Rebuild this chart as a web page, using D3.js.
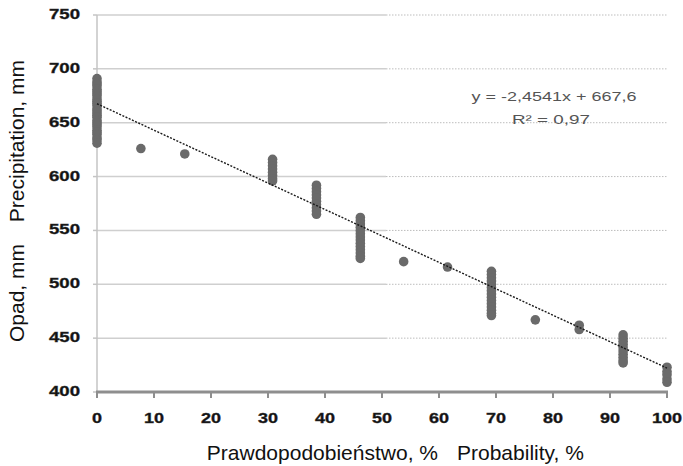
<!DOCTYPE html>
<html lang="pl">
<head>
    <meta charset="UTF-8">
    <title>Opad - prawdopodobieństwo</title>
    <script src="https://cdn.jsdelivr.net/npm/d3@7/dist/d3.min.js"></script>
    <style>
        body { margin: 0; background: #fff; }
        svg { display: block; font-family: "Liberation Sans", Arial, sans-serif; }
        .tick-label { font-weight: bold; font-size: 15px; fill: #111; stroke: #333; stroke-width: 0.4px; }
        .title { font-size: 21px; fill: #111; }
        .eq { font-size: 13px; fill: #555; }
    </style>
</head>
<body>
<div id="chart"></div>
<script>
    'use strict';

    // probability (%) of each group of points
    const probability = [0, 7.7, 15.4, 30.8, 38.5, 46.2, 53.8, 61.5, 69.2, 76.9, 84.6, 92.3, 100];

    // precipitation (mm), one list per probability
    const precipitation = [
        [691, 688, 686, 684, 681, 679, 677, 675, 672, 670, 668, 666, 663, 661, 659, 657, 655, 652, 650, 648, 646, 643, 641, 639, 636, 634, 631],
        [626],
        [621],
        [616, 613, 610, 607, 604, 601, 598, 596],
        [592, 589, 586, 583, 580, 577, 574, 571, 568, 565],
        [562, 559, 556, 553, 550, 547, 544, 541, 538, 535, 532, 529, 526, 524],
        [521],
        [516],
        [512, 509, 506, 503, 500, 497, 494, 491, 488, 485, 482, 479, 476, 473, 471],
        [467],
        [462, 458],
        [453, 450, 447, 444, 441, 438, 435, 432, 429, 427],
        [423, 419, 416, 412, 409]
    ];

    const xTicks = [0, 10, 20, 30, 40, 50, 60, 70, 80, 90, 100];
    const yTicks = [400, 450, 500, 550, 600, 650, 700, 750];

    // linear trend shown on the chart
    const trendSlope = -2.4541;
    const trendIntercept = 667.6;
    const equationText = 'y = -2,4541x + 667,6';
    const r2Text = 'R² = 0,97';

    const width = 683, height = 466;

    const svg = d3.select('#chart').append('svg')
        .attr('width', width)
        .attr('height', height);

    const x = d3.scaleLinear().domain([0, 100]).range([97, 667]);
    const y = d3.scaleLinear().domain([400, 750]).range([392, 15]);

    // gridlines: solid on the left part, dotted on the right part (as in the scan)
    const gridSplit = 50.7;
    const grid = svg.append('g');
    yTicks.filter(function (v) { return v > 400; }).forEach(function (v) {
        grid.append('line')
            .attr('x1', x(0)).attr('x2', x(gridSplit))
            .attr('y1', y(v)).attr('y2', y(v))
            .attr('stroke', '#cfcfcf').attr('stroke-width', 1.5);
        grid.append('line')
            .attr('x1', x(gridSplit)).attr('x2', x(100))
            .attr('y1', y(v)).attr('y2', y(v))
            .attr('stroke', '#bdbdbd').attr('stroke-width', 1)
            .attr('stroke-dasharray', '1.5,1.5');
    });

    // left axis
    svg.append('line')
        .attr('x1', x(0)).attr('x2', x(0))
        .attr('y1', y(750)).attr('y2', y(400))
        .attr('stroke', '#c4c4c4').attr('stroke-width', 1.5);

    svg.selectAll('.ytick').data(yTicks).enter().append('line')
        .attr('x1', x(0) - 4).attr('x2', x(0))
        .attr('y1', function (d) { return y(d); })
        .attr('y2', function (d) { return y(d); })
        .attr('stroke', '#c4c4c4').attr('stroke-width', 1.5);

    svg.selectAll('.ylab').data(yTicks).enter().append('text')
        .attr('class', 'tick-label')
        .attr('x', 80)
        .attr('y', function (d) { return y(d) + 4; })
        .attr('text-anchor', 'end')
        .attr('textLength', 31)
        .attr('lengthAdjust', 'spacingAndGlyphs')
        .text(function (d) { return d; });

    // bottom axis
    svg.append('line')
        .attr('x1', x(0) - 1).attr('x2', x(100) + 1)
        .attr('y1', y(400)).attr('y2', y(400))
        .attr('stroke', '#8e8e8e').attr('stroke-width', 3);

    svg.selectAll('.xtick').data(xTicks).enter().append('line')
        .attr('x1', function (d) { return x(d); })
        .attr('x2', function (d) { return x(d); })
        .attr('y1', y(400)).attr('y2', y(400) + 6)
        .attr('stroke', '#8e8e8e').attr('stroke-width', 2);

    svg.selectAll('.xlab').data(xTicks).enter().append('text')
        .attr('class', 'tick-label')
        .attr('x', function (d) { return x(d); })
        .attr('y', 423)
        .attr('text-anchor', 'middle')
        .attr('textLength', function (d) { return String(d).length * 10; })
        .attr('lengthAdjust', 'spacingAndGlyphs')
        .text(function (d) { return d; });

    // points
    const points = [];
    probability.forEach(function (p, i) {
        precipitation[i].forEach(function (v) { points.push({ p: p, v: v }); });
    });

    svg.append('g').selectAll('circle').data(points).enter().append('circle')
        .attr('cx', function (d) { return x(d.p); })
        .attr('cy', function (d) { return y(d.v); })
        .attr('r', 4.8)
        .attr('fill', '#6a6a6a');

    // trend line
    svg.append('line')
        .attr('x1', x(0)).attr('y1', y(trendIntercept))
        .attr('x2', x(100)).attr('y2', y(trendIntercept + trendSlope * 100))
        .attr('stroke', '#1a1a1a').attr('stroke-width', 1.4)
        .attr('stroke-dasharray', '2,1.5');

    svg.append('text').attr('class', 'eq')
        .attr('x', 554).attr('y', 101)
        .attr('text-anchor', 'middle')
        .attr('textLength', 165)
        .attr('lengthAdjust', 'spacingAndGlyphs')
        .text(equationText);

    svg.append('text').attr('class', 'eq')
        .attr('x', 551).attr('y', 124)
        .attr('text-anchor', 'middle')
        .attr('textLength', 78)
        .attr('lengthAdjust', 'spacingAndGlyphs')
        .text(r2Text);

    // axis titles
    svg.append('text').attr('class', 'title')
        .attr('transform', 'translate(24,342) rotate(-90)')
        .text('Opad, mm');
    svg.append('text').attr('class', 'title')
        .attr('transform', 'translate(24,60) rotate(-90)')
        .attr('text-anchor', 'end')
        .text('Precipitation, mm');

    svg.append('text').attr('class', 'title')
        .attr('x', 438).attr('y', 460)
        .attr('text-anchor', 'end')
        .text('Prawdopodobieństwo, %');
    svg.append('text').attr('class', 'title')
        .attr('x', 457).attr('y', 460)
        .text('Probability, %');
</script>
</body>
</html>
